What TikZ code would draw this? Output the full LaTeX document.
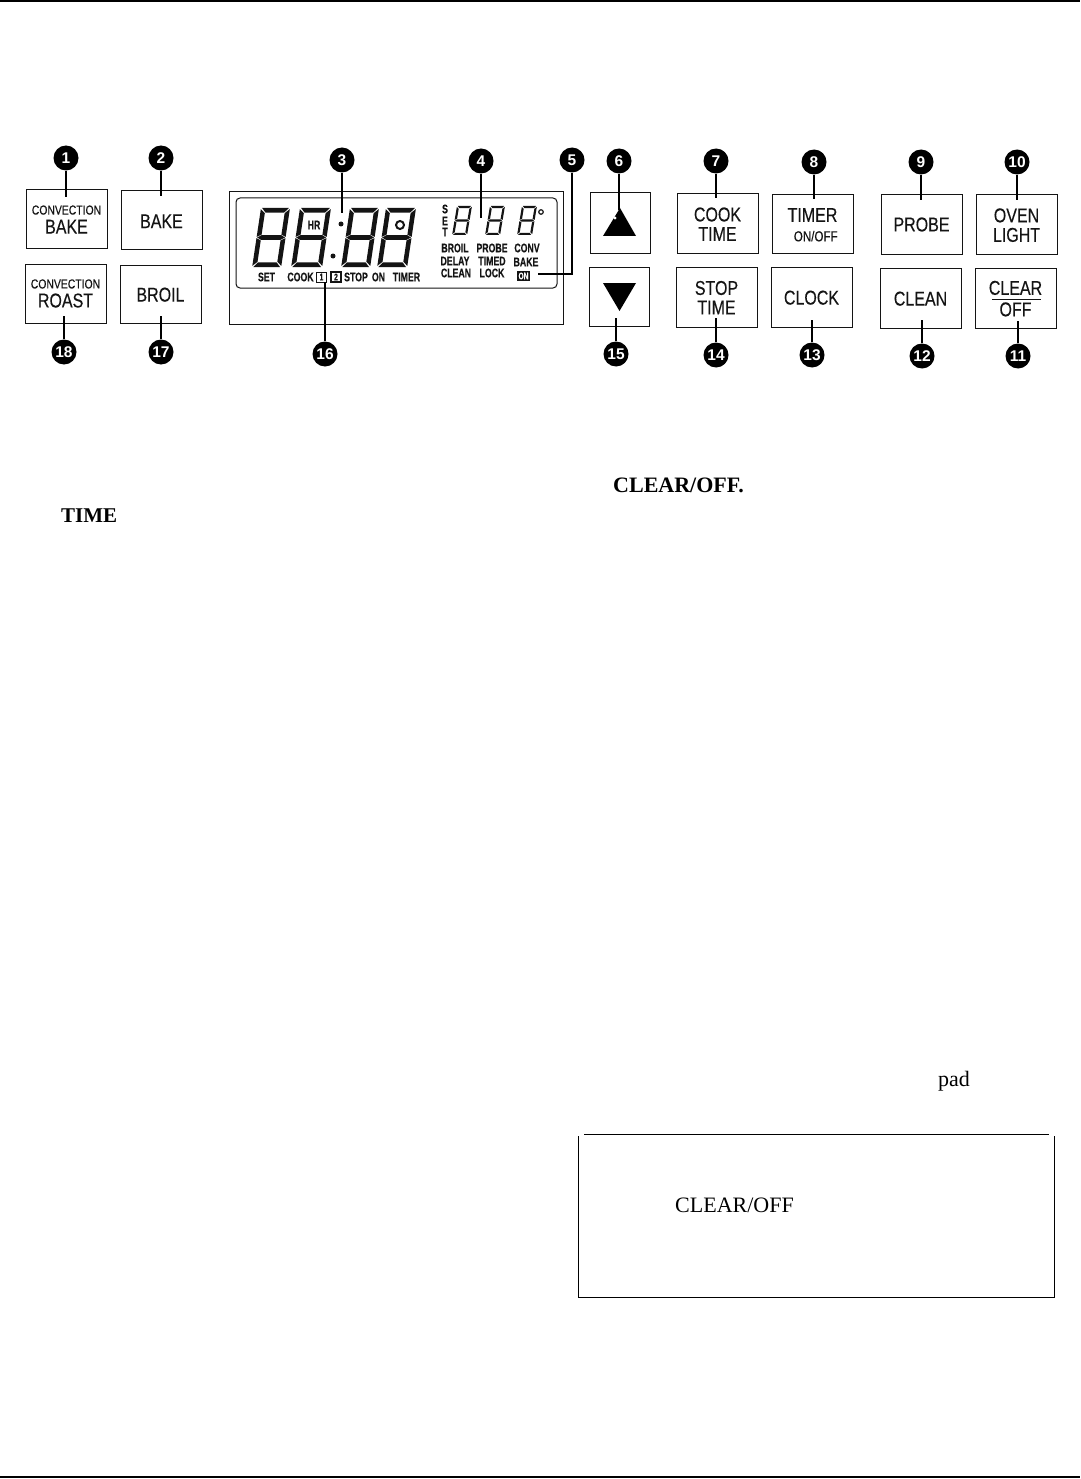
\documentclass[tikz,border=0pt]{standalone}
\usepackage{fontspec}
\setmainfont{Liberation Serif}
\newfontfamily\condfont[FakeStretch=0.80,FakeBold=0.25]{Liberation Sans}
\newfontfamily\lcdfont[FakeStretch=0.70,FakeBold=0.3]{Liberation Sans}
\newfontfamily\badgefont{Liberation Sans}
\newcommand{\sevenseg}[6][0.15]{%
 \begin{scope}[shift={(#2,#3)},xslant=#1]
 \pgfmathsetmacro\sw{#4}\pgfmathsetmacro\sh{#5}\pgfmathsetmacro\st{#6}\pgfmathsetmacro\sg{0.6}
 \pgfmathsetmacro\sm{\sh/2}\pgfmathsetmacro\sc{\st*0.12}
 \fill[inkc] (\sg+\sc,0)--(\sw-\sg-\sc,0)--(\sw-\st-\sg,\st)--(\st+\sg,\st)--cycle;
 \fill[inkc] (\sw,\sg+\sc)--(\sw,\sm-\sg)--(\sw-\st,\sm-\st/2-\sg)--(\sw-\st,\st+\sg)--cycle;
 \fill[inkc] (\sw,\sm+\sg)--(\sw,\sh-\sg-\sc)--(\sw-\st,\sh-\st-\sg)--(\sw-\st,\sm+\st/2+\sg)--cycle;
 \fill[inkc] (0,\sg+\sc)--(\st,\st+\sg)--(\st,\sm-\st/2-\sg)--(0,\sm-\sg)--cycle;
 \fill[inkc] (0,\sm+\sg)--(\st,\sm+\st/2+\sg)--(\st,\sh-\st-\sg)--(0,\sh-\sg-\sc)--cycle;
 \fill[inkc] (\sg,\sm)--(\st,\sm-\st/2)--(\sw-\st,\sm-\st/2)--(\sw-\sg,\sm)--(\sw-\st,\sm+\st/2)--(\st,\sm+\st/2)--cycle;
 \fill[inkc] (\st+\sg,\sh-\st)--(\sw-\st-\sg,\sh-\st)--(\sw-\sg-\sc,\sh)--(\sg+\sc,\sh)--cycle;
 \end{scope}}
\definecolor{inkc}{gray}{0.08}
\tikzset{
 x=1pt,y=-1pt,
 button/.style={draw=inkc,line width=1pt,inner sep=0pt,align=center,text=inkc,font=\condfont\fontsize{20}{19.5}\selectfont},
 badge/.style={circle,fill=black,inner sep=0pt,minimum size=25pt,text=white,font=\badgefont\bfseries\fontsize{15.5}{15}\selectfont},
 leader/.style={draw=black,line width=1.3pt},
 lcdlabel/.style={inner sep=0pt,text=inkc,font=\lcdfont\bfseries\fontsize{12.5}{12}\selectfont},
 bodytext/.style={inner sep=0pt,anchor=base west,text=black,font=\fontsize{22}{24}\selectfont},
 frame/.style={draw=inkc,line width=1pt},
}
\newcommand{\btnsmall}{\fontsize{13}{14}\selectfont}
\newcommand{\btnmini}{\fontsize{14.5}{14}\selectfont}
\newcommand{\tp}{\rule{0pt}{15.3pt}}
\begin{document}
\begin{tikzpicture}
\useasboundingbox (0,0) rectangle (1080,1479);
\fill[white] (0,0) rectangle (1080,1479);
% page rules
\coordinate (tl) at (0,1); \coordinate (tr) at (1080,1);
\coordinate (bl) at (0,1477); \coordinate (br) at (1080,1477);
\draw[line width=1.4pt] (tl)--(tr);
\draw[line width=1.2pt] (bl)--(br);
% buttons
\node[button,minimum width=81pt,minimum height=59pt] (k1) at (66.5,219.5) {{\btnsmall CONVECTION}\\[-0.5pt]\tp BAKE};
\node[button,minimum width=81pt,minimum height=59pt] (k2) at (161.5,220.5) {\tp BAKE};
\node[button,minimum width=81pt,minimum height=59pt] (k18) at (65.5,293.5) {{\btnsmall CONVECTION}\\[-0.5pt]\tp ROAST};
\node[button,minimum width=81pt,minimum height=58pt] (k17) at (160.5,294) {\tp BROIL};
\node[button,minimum width=60pt,minimum height=60pt] (k6) at (620,223) {};
\node[button,minimum width=60pt,minimum height=59pt] (k15) at (619,296.5) {};
\node[button,minimum width=81pt,minimum height=59pt] (k7) at (717.5,223.5) {\tp COOK\\TIME};
\node[button,minimum width=81pt,minimum height=60pt] (k14) at (716.5,297) {\tp STOP\\TIME};
\node[button,minimum width=81pt,minimum height=59pt] (k8) at (812.5,224) {\tp TIMER\\{\btnmini\ \ ON/OFF}};
\node[button,minimum width=81pt,minimum height=60pt] (k13) at (811.5,297) {\tp CLOCK};
\node[button,minimum width=81pt,minimum height=59pt] (k9) at (921.5,224.5) {PROBE};
\node[button,minimum width=81pt,minimum height=60pt] (k12) at (920.5,298) {\tp CLEAN};
\node[button,minimum width=81pt,minimum height=59pt] (k10) at (1016.5,224.5) {\tp OVEN\\LIGHT};
\node[button,minimum width=81pt,minimum height=60pt] (k11) at (1015.5,298) {\tp CLEAR\\[2pt]OFF};
\coordinate (clearL) at (992,299); \coordinate (clearR) at (1041,299);
\draw[line width=0.9pt,inkc] (clearL)--(clearR);
% arrows on keys
\fill[black] (620,208)--(636,236)--(603,236)--cycle;
\fill[white] (615,218) circle (1.7);
\fill[black] (603,283)--(636,283)--(619.5,311)--cycle;
% display
\node[frame,minimum width=334pt,minimum height=132pt,inner sep=0pt] (disp) at (396,258) {};
\node[frame,rounded corners=4pt,minimum width=321pt,minimum height=90pt,inner sep=0pt] (lcd) at (396.5,243) {};
\sevenseg{261}{208}{29}{59}{4.6}
\sevenseg{300}{208}{31}{59}{4.6}
\sevenseg{350}{208}{29}{59}{4.6}
\sevenseg{386}{208}{30}{59}{4.6}
\sevenseg[0.17]{457}{206}{15}{29}{2.2}
\sevenseg[0.17]{490}{206}{15}{29}{2.2}
\sevenseg[0.17]{522}{206}{15}{29}{2.2}
\node[circle,fill=inkc,inner sep=0pt,minimum size=5pt] (dotA) at (341,224) {};
\node[circle,fill=inkc,inner sep=0pt,minimum size=5pt] (dotB) at (333,256) {};
\node[circle,draw=inkc,line width=2pt,inner sep=0pt,minimum size=8pt] (ring) at (400,225) {};
\node[circle,draw=inkc,line width=1.2pt,inner sep=0pt,minimum size=4.5pt] (deg) at (541,212) {};
\node[lcdlabel] (hr) at (314,225) {HR};
\node[lcdlabel] (ls) at (266.5,277) {SET};
\node[lcdlabel] (lc) at (300.5,277) {COOK};
\node[draw=inkc,line width=1pt,minimum size=10pt,inner sep=0pt,font=\lcdfont\bfseries\fontsize{9.5}{9}\selectfont,text=inkc] (one) at (321.5,277) {1};
\node[draw=inkc,line width=1.2pt,minimum size=10pt,inner sep=0pt,font=\lcdfont\bfseries\fontsize{9.5}{9}\selectfont,text=inkc] (two) at (336,277) {2};
\node[lcdlabel] (lst) at (356,277) {STOP};
\node[lcdlabel] (lon) at (378.5,277) {ON};
\node[lcdlabel] (lti) at (406.5,277) {TIMER};
\node[lcdlabel] (s1) at (445,209) {S};
\node[lcdlabel] (s2) at (445,221) {E};
\node[lcdlabel] (s3) at (445,232) {T};
\node[lcdlabel] (w1) at (455,248) {BROIL};
\node[lcdlabel] (w2) at (492,248) {PROBE};
\node[lcdlabel] (w3) at (527,248) {CONV};
\node[lcdlabel] (w4) at (455,261) {DELAY};
\node[lcdlabel] (w5) at (492,261) {TIMED};
\node[lcdlabel] (w6) at (526,262) {BAKE};
\node[lcdlabel] (w7) at (456,273) {CLEAN};
\node[lcdlabel] (w8) at (492,273) {LOCK};
\node[fill=inkc,text=white,minimum width=13pt,minimum height=10pt,inner sep=0pt,font=\lcdfont\bfseries\fontsize{9.5}{8}\selectfont] (w9) at (523.5,276) {ON};
% badges
\foreach \n/\px/\py in {1/66/158,2/161/158,3/342/160,4/481/161,5/572/160,6/619/161,7/716/161,8/814/162,9/921/162,10/1017/162,
 18/64/352,17/161/352,16/325/354,15/616/354,14/716/355,13/812/355,12/922/356,11/1018/356}
 {\node[badge] (b\n) at (\px,\py) {\n};}
% leader ends
\coordinate (e1) at (66,197); \coordinate (e2) at (161,196);
\coordinate (e3) at (342,213); \coordinate (e4) at (481,218);
\coordinate (e6) at (619,210); \coordinate (e7) at (716,198);
\coordinate (e8) at (814,199); \coordinate (e9) at (921,200);
\coordinate (e10) at (1017,200);
\coordinate (e18) at (64,316); \coordinate (e17) at (161,316);
\coordinate (e16) at (325,282); \coordinate (e15) at (616,318);
\coordinate (e14) at (716,318); \coordinate (e13) at (812,320);
\coordinate (e12) at (922,320); \coordinate (e11) at (1018,321);
\coordinate (e5) at (538,274); \coordinate (c5) at (572,274);
\foreach \n in {1,2,3,4,6,7,8,9,10,18,17,16,15,14,13,12,11}
 {\draw[leader] (b\n) -- (e\n);}
\draw[leader] (b5) -- (c5) -- (e5);
% body text
\node[bodytext,font=\bfseries\fontsize{21}{24}\selectfont] (tTime) at (61,522) {TIME};
\node[bodytext,font=\bfseries\fontsize{22}{24}\selectfont] (tClear) at (613,492) {CLEAR/OFF.};
\node[bodytext] (tPad) at (938,1086) {pad};
% note box
\coordinate (nA) at (578,1136); \coordinate (nB) at (578,1297); \coordinate (nC) at (1054,1297); \coordinate (nD) at (1054,1136);
\coordinate (nE) at (584,1134.5); \coordinate (nF) at (1049,1134.5);
\draw[line width=1pt] (nA)--(nB)--(nC)--(nD);
\draw[line width=1pt] (nE)--(nF);
\node[bodytext] (tNote) at (675,1212) {CLEAR/OFF};
\end{tikzpicture}
\end{document}
